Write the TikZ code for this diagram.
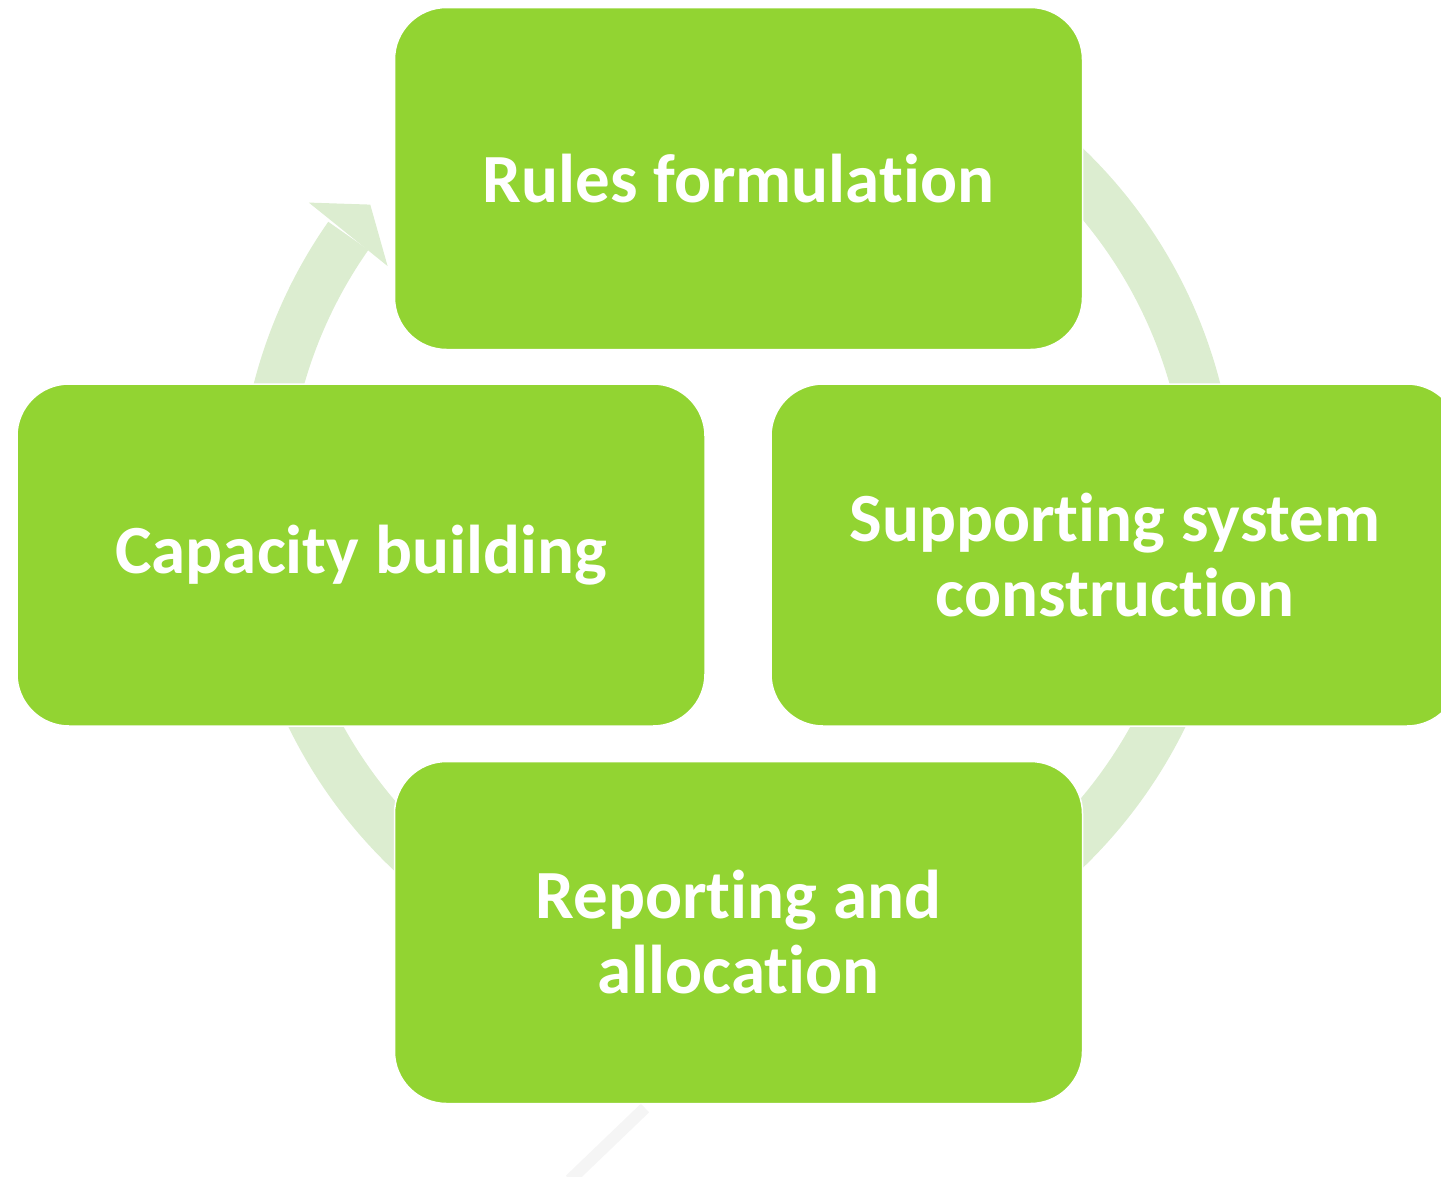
\documentclass[tikz,border=0pt]{standalone}
\usepackage{fontspec}
\setmainfont{Carlito}[Ligatures=NoCommon]
\usepackage{tikz}
\usetikzlibrary{calc}
\definecolor{boxgreen}{RGB}{146,212,50}
\definecolor{ringgreen}{RGB}{220,237,208}

\begin{document}
\begin{tikzpicture}[x=1pt,y=1pt,
  stage/.style={fill=boxgreen, draw=white, line width=1.5pt,
                rounded corners=52pt,
                minimum width=688pt, minimum height=342pt,
                inner sep=0pt, text=white, align=center,
                font=\fontsize{69}{75}\selectfont\bfseries}]

 \clip (0,0) rectangle (1441,-1176);
 \coordinate (c) at (737,-508);

 % cycle arrow behind the boxes
 \fill[ringgreen] ($(c)+(100:499)$) arc[start angle=100, end angle=-215, radius=499]
   -- ($(c)+(-215:450)$) arc[start angle=-215, end angle=100, radius=450] -- cycle;
 \fill[ringgreen] ($(c)+(144.5:526)$) -- ($(c)+(140.4:476)$) -- ($(c)+(145.3:425)$) -- cycle;

 \draw[black!4, line width=12pt] (645,-1108) -- (570,-1180);

 \node[stage] (rules)    at (738.5,-178.5) {Rules formulation};
 \node[stage] (support)  at (1115,-555)    {Supporting system\\construction};
 \node[stage] (report)   at (738.5,-932.5) {Reporting and\\allocation};
 \node[stage] (capacity) at (361,-555)     {Capacity building};
\end{tikzpicture}
\end{document}
